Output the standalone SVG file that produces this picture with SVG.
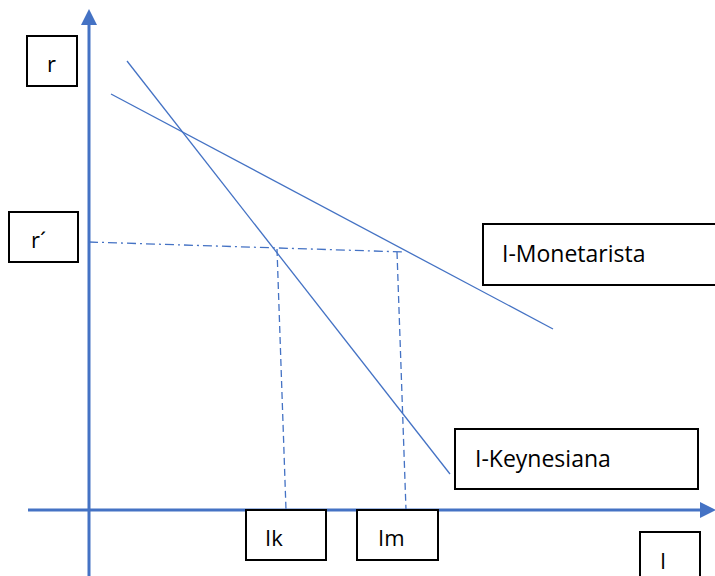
<svg xmlns="http://www.w3.org/2000/svg" width="715" height="576" viewBox="0 0 715 576">
<style>
.box{fill:#fff;stroke:#000;stroke-width:2}
.t{font-family:"Open Sans","Liberation Sans",sans-serif;font-size:22px;fill:#000}
.big{font-size:23px}
.ax{stroke:#4472C4;stroke-width:3;fill:none}
.ln{stroke:#4472C4;stroke-width:1.3;fill:none}
.dd{stroke:#4472C4;stroke-width:1.3;fill:none;stroke-dasharray:9 4 2 4}
.ds{stroke:#4472C4;stroke-width:1.3;fill:none;stroke-dasharray:7 4}
</style>
<rect width="715" height="576" fill="#fff"/>
<g id="connectors">
<line class="ax" x1="89" y1="576" x2="89" y2="22"/>
<polygon points="89,9 81,25 97,25" fill="#4472C4"/>
<line class="ax" x1="28" y1="510" x2="702" y2="510"/>
<polygon points="716,510 700,502 700,518" fill="#4472C4"/>
<line class="ln" x1="127" y1="61" x2="450" y2="474"/>
<line class="ln" x1="111" y1="94" x2="553" y2="329"/>
<line class="dd" x1="89" y1="242" x2="405" y2="252"/>
<line class="ds" x1="277" y1="249" x2="286" y2="510"/>
<line class="ds" x1="397" y1="252" x2="406" y2="510"/>
</g>
<g id="r"><rect class="box" x="27" y="36" width="50" height="50"/><text class="t" x="47" y="72">r</text></g>
<g id="r-prime"><rect class="box" x="9" y="212" width="69" height="50"/><text class="t" x="31" y="248">r´</text></g>
<g id="i-monetarista"><rect class="box" x="483" y="224" width="240" height="61"/><text class="t big" x="502" y="262">I-Monetarista</text></g>
<g id="i-keynesiana"><rect class="box" x="455" y="429" width="243" height="60"/><text class="t big" x="475" y="467">I-Keynesiana</text></g>
<g id="ik"><rect class="box" x="246" y="510" width="80" height="50"/><text class="t" x="265" y="546">Ik</text></g>
<g id="im"><rect class="box" x="357" y="510" width="81" height="50"/><text class="t" x="378" y="546">Im</text></g>
<g id="i"><rect class="box" x="640" y="532" width="60" height="60"/><text class="t" x="660" y="569">I</text></g>
</svg>
